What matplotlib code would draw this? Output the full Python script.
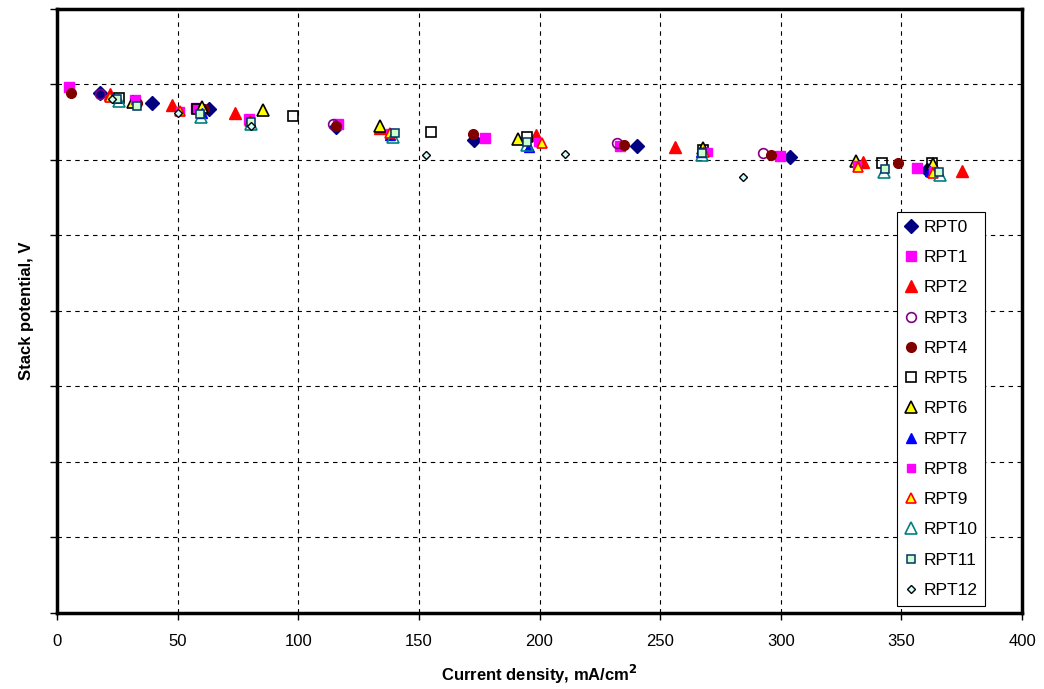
import matplotlib
matplotlib.use("Agg")
import matplotlib.pyplot as plt

plt.rcParams["font.family"] = ["Liberation Sans", "DejaVu Sans"]

# current density (mA/cm2) and stack potential (V) per reference performance test
rpt0_x = [18, 39.4, 63, 115.5, 172.8, 240.4, 303.8, 360.6]
rpt0_y = [6.89, 6.75, 6.67, 6.44, 6.27, 6.19, 6.04, 5.87]
rpt1_x = [5, 32.3, 57.6, 79.6, 116.5, 177.4, 233.4, 299.7, 356.5]
rpt1_y = [6.97, 6.79, 6.69, 6.54, 6.47, 6.29, 6.19, 6.05, 5.90]
rpt2_x = [22, 47.7, 73.8, 134, 198.5, 256, 334, 375]
rpt2_y = [6.87, 6.73, 6.62, 6.43, 6.33, 6.17, 5.97, 5.85]
rpt3_x = [17.8, 114.4, 232, 292.6]
rpt3_y = [6.87, 6.48, 6.23, 6.09]
rpt4_x = [5.8, 33, 61, 115.6, 172.4, 235, 296, 348.6]
rpt4_y = [6.89, 6.75, 6.68, 6.45, 6.34, 6.20, 6.07, 5.96]
rpt5_x = [25.7, 58, 97.8, 155, 194.8, 267.8, 342, 362.7]
rpt5_y = [6.82, 6.67, 6.58, 6.37, 6.31, 6.13, 5.96, 5.96]
rpt6_x = [31.5, 60.1, 85.4, 133.9, 191, 267.8, 331.2, 363]
rpt6_y = [6.77, 6.70, 6.66, 6.45, 6.28, 6.16, 5.99, 5.95]
rpt7_x = [22, 60, 138, 195.6, 267, 362]
rpt7_y = [6.85, 6.62, 6.33, 6.17, 6.10, 5.86]
rpt8_x = [32.3, 51, 79.6, 138, 199.4, 270, 331.6, 363]
rpt8_y = [6.80, 6.65, 6.54, 6.36, 6.24, 6.10, 5.93, 5.86]
rpt9_x = [22, 51, 80, 138, 201, 268, 332, 363]
rpt9_y = [6.83, 6.65, 6.52, 6.36, 6.23, 6.10, 5.91, 5.83]
rpt10_x = [25.7, 59.7, 80.4, 139.3, 194.8, 267.4, 342.8, 366]
rpt10_y = [6.78, 6.57, 6.48, 6.31, 6.20, 6.07, 5.84, 5.80]
rpt11_x = [25, 33, 59.3, 80.4, 140, 194.8, 267.4, 343, 365.6]
rpt11_y = [6.81, 6.72, 6.61, 6.50, 6.36, 6.24, 6.09, 5.88, 5.84]
rpt12_x = [22.8, 50.2, 80.4, 153, 210.6, 284.4]
rpt12_y = [6.81, 6.62, 6.45, 6.07, 6.08, 5.77]

series = [
    ("RPT0", rpt0_x, rpt0_y, dict(marker="D", ms=7, mfc="#000080", mec="#000080")),
    ("RPT1", rpt1_x, rpt1_y, dict(marker="s", ms=7.5, mfc="#FF00FF", mec="#FF00FF")),
    ("RPT2", rpt2_x, rpt2_y, dict(marker="^", ms=9, mfc="#FF0000", mec="#FF0000")),
    ("RPT3", rpt3_x, rpt3_y, dict(marker="o", ms=7, mfc="none", mec="#800080", mew=1.2)),
    ("RPT4", rpt4_x, rpt4_y, dict(marker="o", ms=7, mfc="#800000", mec="#800000")),
    ("RPT5", rpt5_x, rpt5_y, dict(marker="s", ms=7.5, mfc="none", mec="black", mew=1.2)),
    ("RPT6", rpt6_x, rpt6_y, dict(marker="^", ms=9, mfc="#FFFF00", mec="black", mew=1.2)),
    ("RPT7", rpt7_x, rpt7_y, dict(marker="^", ms=6.5, mfc="#0000FF", mec="#0000FF")),
    ("RPT8", rpt8_x, rpt8_y, dict(marker="s", ms=5.5, mfc="#FF00FF", mec="#FF00FF")),
    ("RPT9", rpt9_x, rpt9_y, dict(marker="^", ms=7, mfc="#FFFF00", mec="#FF0000", mew=1.2)),
    ("RPT10", rpt10_x, rpt10_y, dict(marker="^", ms=8.5, mfc="none", mec="#008080", mew=1.2)),
    ("RPT11", rpt11_x, rpt11_y, dict(marker="s", ms=5.5, mfc="#CCFFCC", mec="#003366", mew=1.1)),
    ("RPT12", rpt12_x, rpt12_y, dict(marker="D", ms=4.5, mfc="#CCFFFF", mec="black", mew=1.0)),
]

fig = plt.figure(figsize=(10.44, 6.89), dpi=100)
ax = fig.add_axes([0.0546, 0.1103, 0.9244, 0.8767])

for label, xs, ys, style in series:
    ax.plot(xs, ys, linestyle="none", label=label, **style)

ax.set_xlim(0, 400)
ax.set_ylim(0, 8)
ax.set_xticks(range(0, 401, 50))
ax.set_yticks(range(0, 9))
ax.set_yticklabels([])
ax.grid(True, color="black", linestyle=(0, (4, 4)), linewidth=0.8)
ax.set_axisbelow(True)
ax.tick_params(axis="both", direction="out", length=5, width=1, labelsize=12)
ax.tick_params(axis="x", pad=10)
for sp in ax.spines.values():
    sp.set_linewidth(2.5)
    sp.set_color("black")

ax.set_xlabel("Current density, mA/cm$^\\mathbf{2}$", fontsize=12, fontweight="bold", labelpad=10)
ax.set_ylabel("Stack potential, V", fontsize=12, fontweight="bold", labelpad=8)

leg = ax.legend(loc="lower right", bbox_to_anchor=(0.962, 0.012), fontsize=12.5,
                frameon=True, fancybox=False, edgecolor="black", framealpha=1,
                handlelength=0.8, handletextpad=0.3, labelspacing=0.87,
                borderpad=0.45, borderaxespad=0, numpoints=1)
leg.get_frame().set_linewidth(0.8)

fig.savefig("out.png", dpi=100)
